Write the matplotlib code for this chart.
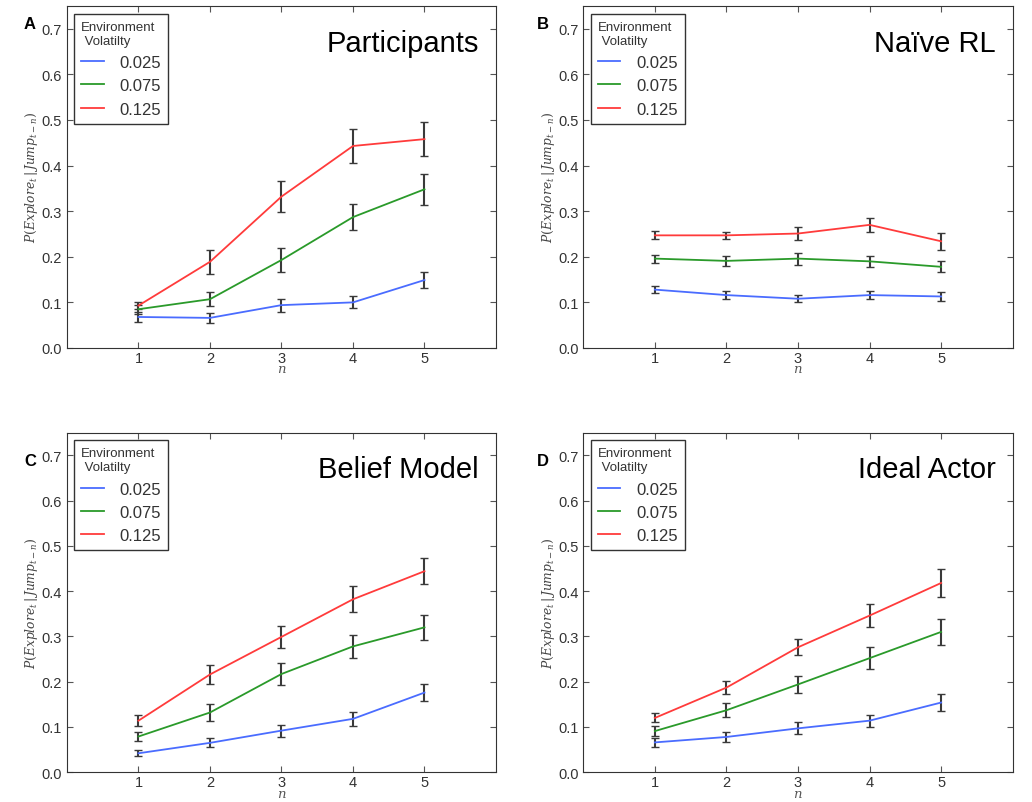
import matplotlib
matplotlib.use("Agg")
import matplotlib.pyplot as plt
from matplotlib.lines import Line2D

plt.rcParams['font.family'] = ['Liberation Sans', 'DejaVu Sans']
plt.rcParams['mathtext.fontset'] = 'dejavuserif'

ns = [1, 2, 3, 4, 5]
volatility = ["0.025", "0.075", "0.125"]
colors = ["#4a6cff", "#2a9a2a", "#ff3b3b"]

panel_titles = ["Participants", "Naïve RL", "Belief Model", "Ideal Actor"]
panel_letters = ["A", "B", "C", "D"]

# mean P(explore) per volatility, for each panel
part_mean = [[0.068, 0.066, 0.094, 0.100, 0.149],
             [0.085, 0.107, 0.193, 0.287, 0.348],
             [0.093, 0.189, 0.332, 0.443, 0.458]]
part_err = [[0.012, 0.011, 0.014, 0.013, 0.018],
            [0.010, 0.016, 0.027, 0.029, 0.034],
            [0.007, 0.026, 0.034, 0.038, 0.038]]

rl_mean = [[0.128, 0.116, 0.108, 0.116, 0.113],
           [0.196, 0.191, 0.196, 0.190, 0.178],
           [0.247, 0.247, 0.251, 0.270, 0.234]]
rl_err = [[0.008, 0.009, 0.008, 0.009, 0.009],
          [0.009, 0.011, 0.013, 0.012, 0.012],
          [0.009, 0.008, 0.014, 0.016, 0.019]]

belief_mean = [[0.042, 0.065, 0.092, 0.118, 0.176],
               [0.079, 0.132, 0.217, 0.278, 0.320],
               [0.114, 0.216, 0.299, 0.382, 0.444]]
belief_err = [[0.007, 0.010, 0.013, 0.015, 0.019],
              [0.010, 0.018, 0.024, 0.026, 0.027],
              [0.012, 0.020, 0.025, 0.029, 0.029]]

actor_mean = [[0.066, 0.078, 0.097, 0.114, 0.154],
              [0.091, 0.137, 0.194, 0.252, 0.310],
              [0.120, 0.187, 0.276, 0.346, 0.418]]
actor_err = [[0.010, 0.011, 0.013, 0.013, 0.018],
             [0.011, 0.015, 0.018, 0.024, 0.028],
             [0.010, 0.014, 0.018, 0.025, 0.031]]

means = [part_mean, rl_mean, belief_mean, actor_mean]
errs = [part_err, rl_err, belief_err, actor_err]

fig = plt.figure(figsize=(10.32, 8.03), dpi=100)
rects = [[0.0649, 0.5654, 0.4157, 0.4259],
         [0.5652, 0.5654, 0.4161, 0.4259],
         [0.0649, 0.0370, 0.4157, 0.4230],
         [0.5652, 0.0370, 0.4161, 0.4230]]
letter_pos = [(0.029, 0.970), (0.526, 0.970), (0.029, 0.425), (0.526, 0.425)]

for i in range(4):
    ax = fig.add_axes(rects[i])
    for j in range(3):
        ax.errorbar(ns, means[i][j], yerr=errs[i][j], color=colors[j],
                    ecolor="#3a3a3a", elinewidth=1.5, capsize=3, capthick=1,
                    lw=1.3)
    ax.set_xlim(0, 6)
    ax.set_ylim(0, 0.75)
    ax.set_xticks(ns)
    ax.set_yticks([0.0, 0.1, 0.2, 0.3, 0.4, 0.5, 0.6, 0.7])
    ax.tick_params(direction='in', top=True, right=True, length=4,
                   labelsize=10.5, labelcolor="#333333", color="#555555")
    ax.tick_params(axis='x', pad=2)
    for sp in ax.spines.values():
        sp.set_color("#333333")
    ax.set_xlabel("$n$", fontsize=9.5, color="#555555", labelpad=-1)
    ax.set_ylabel("$P(Explore_t\\,|\\,Jump_{t-n})$", fontsize=8.8,
                  color="#444444", labelpad=1)
    ax.text(0.96, 0.893, panel_titles[i], transform=ax.transAxes,
            ha='right', va='center', fontsize=21)
    handles = [Line2D([], [], color=colors[j], lw=1.3) for j in range(3)]
    leg = ax.legend(handles, volatility, title="Environment\n Volatilty",
                    loc='upper left', bbox_to_anchor=(0.017, 0.977),
                    borderaxespad=0, fontsize=12, title_fontsize=9.5,
                    handlelength=1.35, handletextpad=0.95, labelspacing=0.5,
                    fancybox=False, framealpha=1, borderpad=0.42)
    leg.get_frame().set_edgecolor("#333333")
    leg.get_frame().set_linewidth(1.0)
    leg._legend_box.align = "left"
    for t in leg.get_texts():
        t.set_color("#333333")
    leg.get_title().set_color("#333333")
    fig.text(letter_pos[i][0], letter_pos[i][1], panel_letters[i],
             fontsize=12, fontweight='bold', ha='center', va='center')

fig.savefig("out.png", dpi=100)
